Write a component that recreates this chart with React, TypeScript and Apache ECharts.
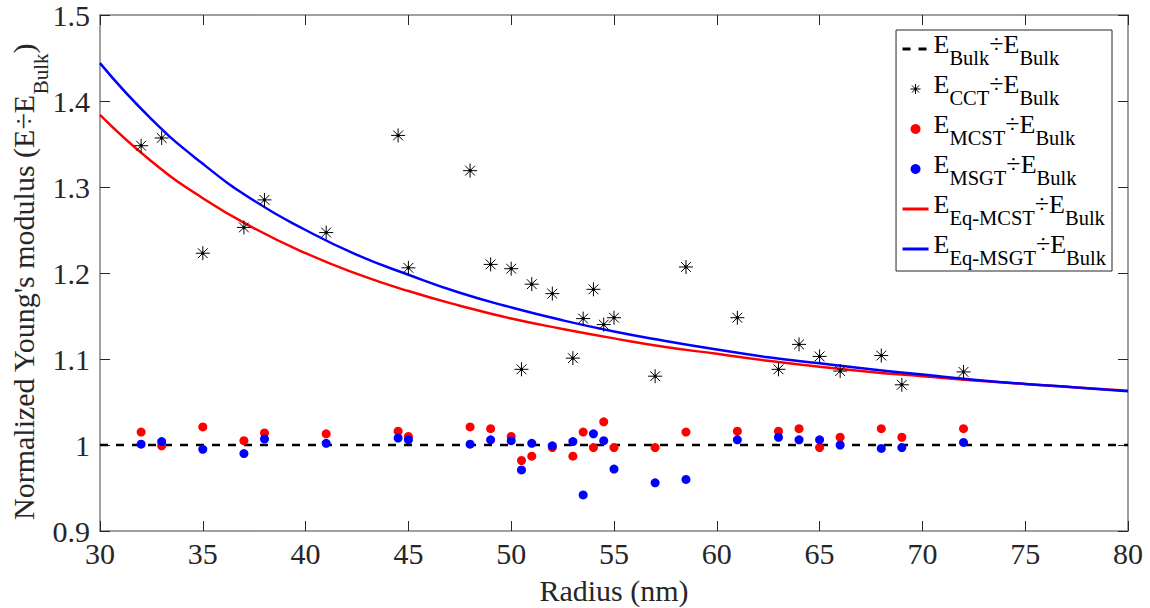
import React, { useEffect, useRef } from "react";
import * as echarts from "echarts";

// ---- data ----
const radius = [32, 33, 35, 37, 38, 41, 44.5, 45, 48, 49, 50, 50.5, 51, 52, 53, 53.5, 54, 54.5, 55, 57, 58.5, 61, 63, 64, 65, 66, 68, 69, 72];
const cctRatio = [1.348, 1.357, 1.223, 1.253, 1.285, 1.247, 1.36, 1.206, 1.319, 1.21, 1.205, 1.088, 1.187, 1.176, 1.101, 1.147, 1.181, 1.14, 1.148, 1.08, 1.207, 1.148, 1.088, 1.117, 1.103, 1.086, 1.104, 1.07, 1.085];
const mcstRatio = [1.015, 0.999, 1.021, 1.005, 1.014, 1.013, 1.016, 1.01, 1.021, 1.019, 1.01, 0.982, 0.987, 0.997, 0.987, 1.015, 0.997, 1.027, 0.997, 0.997, 1.015, 1.016, 1.016, 1.019, 0.997, 1.009, 1.019, 1.009, 1.019];
const msgtRatio = [1.001, 1.004, 0.995, 0.99, 1.007, 1.002, 1.008, 1.006, 1.001, 1.006, 1.005, 0.971, 1.002, 0.999, 1.004, 0.942, 1.013, 1.005, 0.972, 0.956, 0.96, 1.006, 1.009, 1.006, 1.006, 1.0, 0.996, 0.997, 1.003];

const curveRadius = [30, 32.5, 35, 37.5, 40, 42.5, 45, 47.5, 50, 52.5, 55, 57.5, 60, 62.5, 65, 67.5, 70, 72.5, 75, 77.5, 80];
const eqMcstCurve = [1.384, 1.33, 1.287, 1.252, 1.223, 1.199, 1.179, 1.162, 1.147, 1.135, 1.124, 1.114, 1.106, 1.098, 1.091, 1.085, 1.08, 1.075, 1.071, 1.067, 1.063];
const eqMsgtCurve = [1.444, 1.379, 1.327, 1.284, 1.25, 1.221, 1.198, 1.177, 1.16, 1.145, 1.132, 1.121, 1.111, 1.102, 1.095, 1.088, 1.082, 1.076, 1.071, 1.067, 1.0625];

const bulkRadius = [30, 80];
const bulkRatio = [1, 1];

const xMin = 30, xMax = 80, xStep = 5;
const yMin = 0.9, yMax = 1.5, yStep = 0.1;

const seriesNames = ["bulk", "cct", "mcst", "msgt", "eqMcst", "eqMsgt"];
const legendLabels: Record<string, string> = {
  bulk: "{m|E}{s|Bulk}{m|÷E}{s|Bulk}",
  cct: "{m|E}{s|CCT}{m|÷E}{s|Bulk}",
  mcst: "{m|E}{s|MCST}{m|÷E}{s|Bulk}",
  msgt: "{m|E}{s|MSGT}{m|÷E}{s|Bulk}",
  eqMcst: "{m|E}{s|Eq-MCST}{m|÷E}{s|Bulk}",
  eqMsgt: "{m|E}{s|Eq-MSGT}{m|÷E}{s|Bulk}",
};

const FONT = "Liberation Serif";
const AXIS_COLOR = "#808080";
const TEXT_COLOR = "#262626";
const ASTERISK = "path://M10,0V20M0,10H20M3,3L17,17M3,17L17,3M8.6,8.6H11.4V11.4H8.6Z";

const pairs = (xs: number[], ys: number[]) => xs.map((x, i) => [x, ys[i]]);

export default function App() {
  const ref = useRef<HTMLDivElement>(null);
  useEffect(() => {
    if (!ref.current) return;
    const chart = echarts.init(ref.current, null, { renderer: "svg" });
    const axisLine = { show: true, lineStyle: { color: AXIS_COLOR, width: 1.5 } };
    const axisTick = { show: true, inside: true, length: 10, lineStyle: { color: "#262626", width: 1 } };
    chart.setOption({
      animation: false,
      backgroundColor: "#fff",
      textStyle: { fontFamily: FONT },
      grid: { left: 100, right: 22, top: 15, bottom: 77, outerBoundsMode: "none" },
      xAxis: [
        {
          type: "value", min: xMin, max: xMax, interval: xStep, position: "bottom",
          axisLine, axisTick, splitLine: { show: false },
          axisLabel: { color: TEXT_COLOR, fontFamily: FONT, fontSize: 30, margin: 7 },
          name: "Radius (nm)", nameLocation: "middle", nameGap: 44, nameMoveOverlap: false,
          nameTextStyle: { color: TEXT_COLOR, fontFamily: FONT, fontSize: 30 },
        },
        {
          type: "value", min: xMin, max: xMax, interval: xStep, position: "top",
          axisLine, axisTick, splitLine: { show: false }, axisLabel: { show: false },
        },
      ],
      yAxis: [
        {
          type: "value", min: yMin, max: yMax, interval: yStep, position: "left",
          axisLine, axisTick, splitLine: { show: false },
          axisLabel: {
            color: TEXT_COLOR, fontFamily: FONT, fontSize: 30, margin: 10,
            formatter: (v: number) => String(parseFloat(v.toFixed(1))),
          },
          name: "{m|Normalized Young's modulus (E÷E}{s|Bulk}{m|)}",
          nameLocation: "middle", nameGap: 49, nameMoveOverlap: false,
          nameTextStyle: {
            color: TEXT_COLOR, fontFamily: FONT, fontSize: 30, padding: [0, 18, 0, 0],
            rich: {
              m: { fontFamily: FONT, fontSize: 30, lineHeight: 30, verticalAlign: "top", color: TEXT_COLOR },
              s: { fontFamily: FONT, fontSize: 21, lineHeight: 43, verticalAlign: "bottom", color: TEXT_COLOR },
            },
          },
        },
        {
          type: "value", min: yMin, max: yMax, interval: yStep, position: "right",
          axisLine, axisTick, splitLine: { show: false }, axisLabel: { show: false },
        },
      ],
      legend: {
        orient: "vertical",
        right: 38,
        top: 30,
        padding: [0, 6, 3, 5],
        itemGap: 2,
        itemWidth: 26,
        itemHeight: 10,
        backgroundColor: "#fff",
        borderColor: "#262626",
        borderWidth: 1,
        data: [
          { name: "bulk", itemStyle: { opacity: 0 }, lineStyle: { width: 3 } },
          { name: "cct", itemStyle: { borderWidth: 1 } },
          { name: "mcst" },
          { name: "msgt" },
          { name: "eqMcst", itemStyle: { opacity: 0 }, lineStyle: { width: 3 } },
          { name: "eqMsgt", itemStyle: { opacity: 0 }, lineStyle: { width: 3 } },
        ],
        formatter: (name: string) => legendLabels[name] || name,
        textStyle: {
          color: "#000", fontFamily: FONT, fontSize: 26,
          rich: {
            m: { fontFamily: FONT, fontSize: 26, lineHeight: 26, verticalAlign: "top", padding: [1, 0, 0, 0], color: "#000" },
            s: { fontFamily: FONT, fontSize: 20.5, lineHeight: 38, verticalAlign: "bottom", color: "#000" },
          },
        },
      },
      series: [
        {
          name: seriesNames[0], type: "line", data: pairs(bulkRadius, bulkRatio), symbol: "none",
          lineStyle: { color: "#000", width: 2.5, type: [8, 8] }, itemStyle: { color: "#000" }, z: 2,
        },
        {
          name: seriesNames[1], type: "scatter", data: pairs(radius, cctRatio), symbol: ASTERISK, symbolSize: 14,
          itemStyle: { color: "#000", borderColor: "#000", borderWidth: 1, opacity: 1 }, z: 5,
        },
        {
          name: seriesNames[2], type: "scatter", data: pairs(radius, mcstRatio), symbol: "circle", symbolSize: 9,
          itemStyle: { color: "#ff0000", opacity: 1 }, z: 3,
        },
        {
          name: seriesNames[3], type: "scatter", data: pairs(radius, msgtRatio), symbol: "circle", symbolSize: 9,
          itemStyle: { color: "#0000ff", opacity: 1 }, z: 4,
        },
        {
          name: seriesNames[4], type: "line", data: pairs(curveRadius, eqMcstCurve), symbol: "none", smooth: true,
          lineStyle: { color: "#ff0000", width: 2.5 }, itemStyle: { color: "#ff0000" }, z: 2,
        },
        {
          name: seriesNames[5], type: "line", data: pairs(curveRadius, eqMsgtCurve), symbol: "none", smooth: true,
          lineStyle: { color: "#0000ff", width: 2.5 }, itemStyle: { color: "#0000ff" }, z: 2,
        },
      ],
    });
    return () => chart.dispose();
  }, []);
  return <div ref={ref} style={{ position: "absolute", left: 0, top: 0, width: 1150, height: 608 }} />;
}
